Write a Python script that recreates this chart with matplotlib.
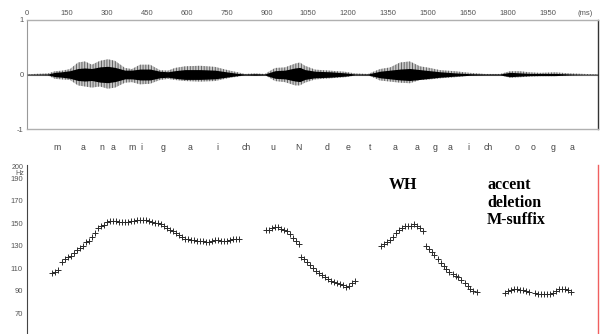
import matplotlib
matplotlib.use("Agg")
import matplotlib.pyplot as plt
import numpy as np

# ---- data ----
time_ticks = [0, 150, 300, 450, 600, 750, 900, 1050, 1200, 1350, 1500, 1650, 1800, 1950]
time_tick_labels = ["0", "150", "300", "450", "600", "750", "900", "1050", "1200", "1350",
                    "1500", "1650", "1800", "1950"]

# waveform envelope (ms, upper, lower magnitude, dark core)
env_t = [0, 79, 105, 131, 161, 191, 217, 243, 273, 303, 330, 367, 393, 423, 461, 498, 528,
         554, 592, 648, 704, 760, 790, 816, 854, 891, 929, 966, 1004, 1022, 1041, 1079, 1135,
         1191, 1228, 1277, 1322, 1360, 1397, 1434, 1472, 1509, 1547, 1603, 1659, 1715, 1772,
         1809, 1846, 1884, 1921, 1978, 2034, 2090, 2139]
env_up = [0.005, 0.02, 0.06, 0.07, 0.10, 0.22, 0.24, 0.18, 0.25, 0.28, 0.25, 0.12, 0.10, 0.18,
          0.18, 0.08, 0.07, 0.12, 0.15, 0.16, 0.14, 0.07, 0.04, 0.01, 0.02, 0.01, 0.12, 0.13,
          0.20, 0.22, 0.16, 0.09, 0.07, 0.05, 0.02, 0.01, 0.10, 0.13, 0.22, 0.24, 0.15, 0.12,
          0.08, 0.06, 0.03, 0.01, 0.01, 0.06, 0.06, 0.04, 0.03, 0.04, 0.02, 0.01, 0.005]
env_lo = [0.005, 0.02, 0.08, 0.09, 0.10, 0.20, 0.22, 0.24, 0.22, 0.26, 0.24, 0.15, 0.14, 0.18,
          0.17, 0.10, 0.08, 0.10, 0.12, 0.13, 0.12, 0.06, 0.04, 0.01, 0.02, 0.01, 0.12, 0.14,
          0.20, 0.20, 0.15, 0.09, 0.07, 0.05, 0.02, 0.01, 0.11, 0.13, 0.15, 0.16, 0.10, 0.09,
          0.07, 0.05, 0.02, 0.01, 0.01, 0.06, 0.05, 0.04, 0.03, 0.03, 0.02, 0.01, 0.005]
env_core = [0.005, 0.01, 0.04, 0.05, 0.07, 0.11, 0.12, 0.11, 0.14, 0.15, 0.13, 0.08, 0.08, 0.10,
            0.10, 0.06, 0.05, 0.07, 0.09, 0.09, 0.08, 0.04, 0.02, 0.01, 0.015, 0.01, 0.07, 0.08,
            0.12, 0.13, 0.09, 0.06, 0.05, 0.03, 0.01, 0.01, 0.06, 0.08, 0.10, 0.11, 0.09, 0.07,
            0.05, 0.03, 0.015, 0.01, 0.01, 0.04, 0.03, 0.02, 0.02, 0.02, 0.01, 0.005, 0.005]

phonemes = ["m", "a", "n", "a", "m", "i", "g", "a", "i", "ch", "u", "N", "d", "e", "t",
            "a", "a", "g", "a", "i", "ch", "o", "o", "g", "a"]
phoneme_t = [112, 210, 280, 323, 392, 427, 510, 610, 712, 823, 922, 1016, 1124, 1202, 1285,
             1378, 1461, 1528, 1584, 1652, 1727, 1835, 1895, 1970, 2041]

f0_t1 = [94, 105, 116, 131, 142, 154, 165, 176, 187, 199, 210, 221, 232, 243, 255, 266, 277,
         288, 300, 311, 322, 333, 345, 356, 367, 378, 390, 401, 412, 423, 435, 446, 457, 468,
         479, 491, 502, 513, 524, 536, 547, 558, 569, 581, 592, 603, 614, 626, 637, 648, 659,
         670, 682, 693, 704, 715, 727, 738, 749, 760, 772, 783, 794]
f0_hz1 = [105.8, 106.7, 108.4, 115.6, 117.8, 119.6, 121.3, 123.6, 125.8, 128.0, 130.2, 132.9,
          134.2, 137.8, 141.3, 145.8, 147.6, 148.4, 151.1, 152.4, 152.0, 151.6, 151.1, 151.1,
          151.1, 151.1, 151.6, 152.0, 152.9, 153.3, 153.3, 152.9, 152.0, 150.7, 150.2, 149.8,
          148.9, 147.6, 145.8, 144.4, 142.7, 141.3, 139.6, 137.8, 136.4, 135.6, 135.1, 134.7,
          134.2, 134.2, 133.8, 133.3, 132.9, 133.8, 134.7, 134.7, 134.2, 133.8, 134.2, 134.7,
          135.6, 136.0, 136.0]
f0_t2 = [895, 906, 918, 929, 940, 951, 963, 974, 985, 996, 1008, 1017, 1026, 1038, 1049, 1060,
         1071, 1082, 1094, 1105, 1116, 1127, 1139, 1150, 1161, 1172, 1184, 1195, 1206, 1217, 1229]
f0_hz2 = [143.6, 144.4, 145.8, 147.1, 146.7, 145.3, 144.0, 142.7, 140.4, 137.3, 133.8, 131.6,
          119.6, 117.8, 116.0, 112.9, 110.2, 108.0, 106.2, 104.0, 102.2, 100.4, 99.1, 98.2, 97.3,
          96.4, 95.1, 93.3, 94.2, 96.9, 98.7]
f0_t3 = [1326, 1337, 1348, 1360, 1371, 1382, 1393, 1405, 1416, 1427, 1438, 1449, 1461, 1472,
         1483, 1493, 1504, 1515, 1526, 1538, 1549, 1560, 1571, 1582, 1594, 1605, 1616, 1627,
         1639, 1650, 1661, 1672, 1684]
f0_hz3 = [130.2, 131.6, 132.9, 134.7, 137.8, 140.9, 143.6, 146.2, 147.6, 147.6, 148.0, 148.9,
          148.0, 145.8, 143.1, 129.8, 127.1, 124.4, 121.8, 117.8, 114.7, 111.6, 109.3, 107.1,
          104.9, 103.1, 101.8, 99.6, 96.9, 94.2, 92.0, 90.2, 89.3]
f0_t4 = [1790, 1802, 1813, 1824, 1835, 1846, 1858, 1869, 1880, 1903, 1914, 1925, 1936, 1948,
         1959, 1970, 1981, 1993, 2004, 2015, 2026, 2038]
f0_hz4 = [88.4, 90.2, 91.1, 91.6, 91.6, 91.1, 90.7, 89.8, 89.3, 87.6, 87.1, 86.7, 86.7, 86.7,
          87.1, 88.0, 90.2, 91.6, 92.0, 91.6, 90.7, 89.3]

hz_ticks = [190, 170, 150, 130, 110, 90, 70]
hz_top_label = "200"
hz_unit = "Hz"

# ---- figure ----
W, H = 600, 334
plt.rcParams["hatch.linewidth"] = 0.6
fig = plt.figure(figsize=(6, 3.34), dpi=100)
fig.patch.set_facecolor("white")
XMAX = (598 - 27) / 0.267
tick_font = dict(family="Liberation Sans", size=5.5)
small_font = dict(family="Liberation Sans", size=5.1)

def fx(px):
    return px / W

def fy(py):
    return 1 - py / H

# --- waveform axes ---
ax1 = fig.add_axes([fx(27), fy(129), fx(598 - 27), (129 - 20) / H])
ax1.set_xlim(0, XMAX)
ax1.set_ylim(-1, 1)
ax1.axhline(0, color="#888888", lw=0.8, zorder=1)
t = np.array(env_t)
ax1.fill_between(t, -np.array(env_lo), np.array(env_up), facecolor="#c8c8c8",
                 edgecolor="#555555", hatch="||||||", lw=0, zorder=2)
ax1.fill_between(t, -np.array(env_core), np.array(env_core), color="black", lw=0, zorder=3)
ax1.xaxis.tick_top()
ax1.set_xticks(time_ticks + [2090])
ax1.set_xticklabels(time_tick_labels + ["(ms)"], **tick_font, color="#555555")
ax1.set_yticks([1, 0, -1])
ax1.set_yticklabels(["1", "0", "-1"], **tick_font, color="#555555")
ax1.tick_params(length=0, pad=2.5)
for s in ["top", "bottom"]:
    ax1.spines[s].set_color("#b0b0b0")
    ax1.spines[s].set_linewidth(1.0)
ax1.spines["left"].set_color("#999999")
ax1.spines["left"].set_linewidth(0.8)
ax1.spines["right"].set_color("#333333")
ax1.spines["right"].set_linewidth(1.0)

# phoneme labels
for ph, pt in zip(phonemes, phoneme_t):
    ax1.text(pt, -1.34, ph, ha="center", va="center", family="Liberation Sans",
             fontsize=6.3, color="#444444", clip_on=False)

# --- pitch axes ---
ytop, ybot = 165, 334
hz_top = 200 + (167 - ytop) / 1.125
hz_bot = 200 - (ybot - 167) / 1.125
ax2 = fig.add_axes([fx(27), 0, fx(598 - 27), (ybot - ytop) / H])
ax2.set_xlim(0, XMAX)
ax2.set_ylim(hz_bot, hz_top)
for tt, hh in [(f0_t1, f0_hz1), (f0_t2, f0_hz2), (f0_t3, f0_hz3), (f0_t4, f0_hz4)]:
    ax2.plot(tt, hh, ls="none", marker="+", ms=4.5, mew=0.7, color="#2a2a2a")
ax2.set_xticks([])
ax2.set_yticks(hz_ticks)
ax2.set_yticklabels([str(v) for v in hz_ticks], **tick_font, color="#555555")
ax2.tick_params(length=0, pad=3)
ax2.spines["top"].set_visible(False)
ax2.spines["bottom"].set_visible(False)
ax2.spines["left"].set_color("#444444")
ax2.spines["left"].set_linewidth(0.8)
ax2.spines["right"].set_color("#f06060")
ax2.spines["right"].set_linewidth(1.0)
fig.text(fx(24), fy(167.2), hz_top_label, ha="right", va="center", **small_font,
         color="#555555")
fig.text(fx(24), fy(173.3), hz_unit, ha="right", va="center", **small_font, color="#555555")

serif = dict(family="Liberation Serif", weight="bold", size=11.5, color="black")
fig.text(fx(403), fy(185), "WH", ha="center", va="center", **serif)
fig.text(fx(487), fy(185), "accent", ha="left", va="center", **serif)
fig.text(fx(487), fy(203), "deletion", ha="left", va="center", **serif)
fig.text(fx(487), fy(220), "M-suffix", ha="left", va="center", **serif)

fig.savefig("out.png", dpi=100, facecolor="white")
